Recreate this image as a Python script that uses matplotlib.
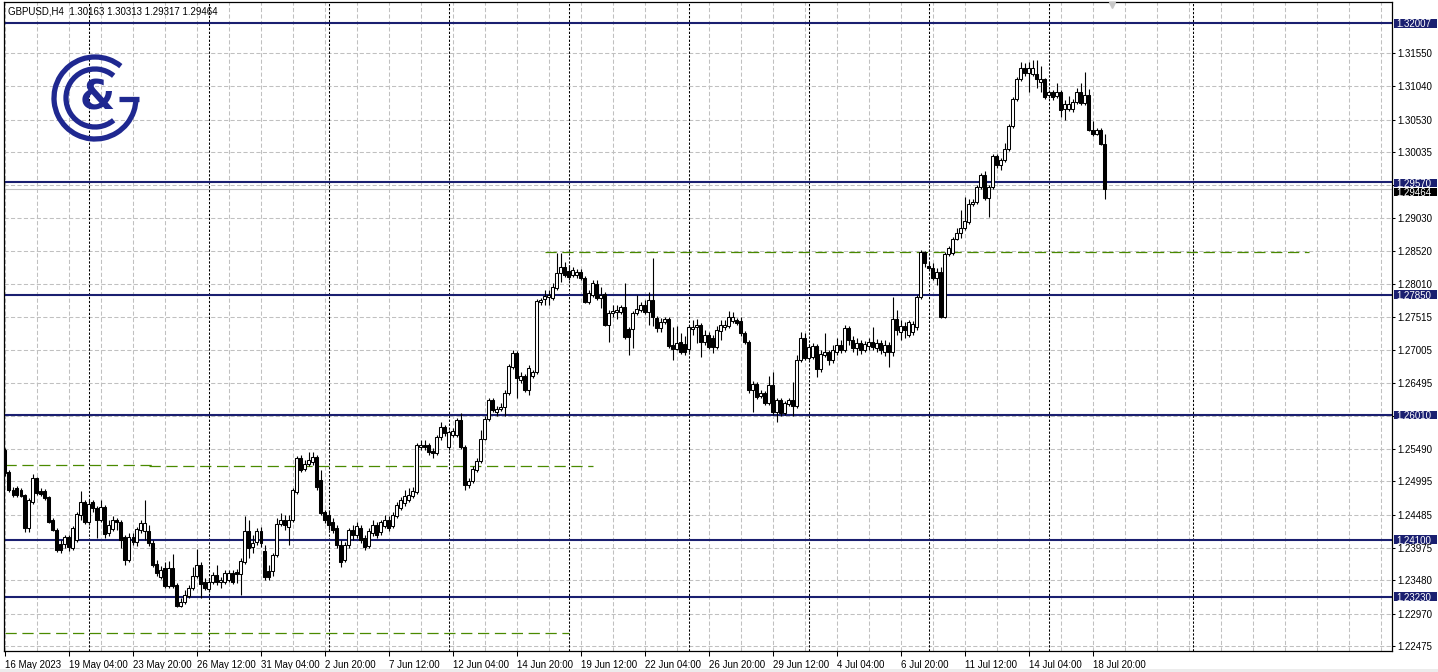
import numpy as np
import matplotlib
matplotlib.use("Agg")
import matplotlib.pyplot as plt
from matplotlib.patches import Arc, Rectangle

plt.rcParams["font.family"] = ["Liberation Sans", "DejaVu Sans"]

# GBPUSD H4 bars, 16 May 2023 12:00 -> 19 Jul 2023 08:00
opens = [
    1.2547, 1.2514, 1.2486, 1.2489, 1.2486, 1.2479, 1.2428, 1.2468, 1.2505, 1.2485,
    1.2485, 1.2475, 1.2440, 1.2425, 1.2404, 1.2404, 1.2414, 1.2397, 1.2410, 1.2448,
    1.2468, 1.2437, 1.2468, 1.2459, 1.2440, 1.2460, 1.2420, 1.2427, 1.2440, 1.2437,
    1.2414, 1.2379, 1.2414, 1.2407, 1.2425, 1.2423, 1.2423, 1.2405, 1.2373, 1.2353,
    1.2367, 1.2339, 1.2367, 1.2341, 1.2309, 1.2315, 1.2324, 1.2336, 1.2355, 1.2371,
    1.2345, 1.2335, 1.2345, 1.2356, 1.2345, 1.2345, 1.2349, 1.2359, 1.2361, 1.2358,
    1.2376, 1.2423, 1.2399, 1.2407, 1.2423, 1.2393, 1.2362, 1.2362, 1.2387, 1.2434,
    1.2440, 1.2430, 1.2440, 1.2483, 1.2535, 1.2518, 1.2526, 1.2529, 1.2537, 1.2502,
    1.2453, 1.2448, 1.2437, 1.2428, 1.2402, 1.2379, 1.2402, 1.2425, 1.2417, 1.2428,
    1.2413, 1.2401, 1.2420, 1.2433, 1.2422, 1.2431, 1.2440, 1.2431, 1.2446, 1.2459,
    1.2467, 1.2471, 1.2477, 1.2483, 1.2552, 1.2555, 1.2555, 1.2546, 1.2543, 1.2567,
    1.2583, 1.2552, 1.2570, 1.2570, 1.2593, 1.2552, 1.2494, 1.2500, 1.2517, 1.2531,
    1.2565, 1.2595, 1.2624, 1.2606, 1.2610, 1.2613, 1.2634, 1.2674, 1.2696, 1.2654,
    1.2661, 1.2639, 1.2661, 1.2667, 1.2774, 1.2778, 1.2781, 1.2780, 1.2795, 1.2818,
    1.2827, 1.2821, 1.2815, 1.2815, 1.2820, 1.2811, 1.2774, 1.2785, 1.2801, 1.2780,
    1.2786, 1.2739, 1.2757, 1.2758, 1.2758, 1.2766, 1.2733, 1.2733, 1.2757, 1.2762,
    1.2769, 1.2759, 1.2777, 1.2749, 1.2734, 1.2743, 1.2748, 1.2708, 1.2702, 1.2713,
    1.2710, 1.2702, 1.2733, 1.2736, 1.2739, 1.2713, 1.2723, 1.2719, 1.2705, 1.2730,
    1.2736, 1.2737, 1.2745, 1.2746, 1.2745, 1.2726, 1.2713, 1.2639, 1.2648, 1.2630,
    1.2634, 1.2619, 1.2647, 1.2606, 1.2624, 1.2604, 1.2618, 1.2624, 1.2615, 1.2685,
    1.2719, 1.2688, 1.2690, 1.2707, 1.2671, 1.2693, 1.2697, 1.2685, 1.2697, 1.2708,
    1.2700, 1.2734, 1.2716, 1.2704, 1.2711, 1.2700, 1.2707, 1.2713, 1.2704, 1.2711,
    1.2697, 1.2708, 1.2697, 1.2748, 1.2728, 1.2737, 1.2723, 1.2728, 1.2736, 1.2781,
    1.2850, 1.2829, 1.2826, 1.2811, 1.2820, 1.2751, 1.2847, 1.2849, 1.2870, 1.2879,
    1.2887, 1.2896, 1.2924, 1.2927, 1.2950, 1.2968, 1.2933, 1.2950, 1.2997, 1.2983,
    1.2991, 1.3008, 1.3043, 1.3084, 1.3115, 1.3132, 1.3124, 1.3123, 1.3123, 1.3110,
    1.3115, 1.3091, 1.3095, 1.3089, 1.3095, 1.3069, 1.3069, 1.3069, 1.3080, 1.3095,
    1.3078, 1.3091, 1.3037, 1.3031, 1.3037, 1.30163,
]
highs = [
    1.2550, 1.2517, 1.2491, 1.2492, 1.2489, 1.2480, 1.2474, 1.2511, 1.2506, 1.2489,
    1.2488, 1.2477, 1.2443, 1.2428, 1.2410, 1.2417, 1.2417, 1.2431, 1.2453, 1.2485,
    1.2471, 1.2471, 1.2471, 1.2462, 1.2471, 1.2463, 1.2440, 1.2446, 1.2443, 1.2440,
    1.2417, 1.2420, 1.2420, 1.2430, 1.2440, 1.2471, 1.2433, 1.2410, 1.2379, 1.2370,
    1.2376, 1.2378, 1.2388, 1.2344, 1.2321, 1.2333, 1.2341, 1.2368, 1.2396, 1.2376,
    1.2352, 1.2352, 1.2361, 1.2371, 1.2353, 1.2364, 1.2364, 1.2364, 1.2365, 1.2382,
    1.2446, 1.2440, 1.2417, 1.2428, 1.2430, 1.2402, 1.2371, 1.2390, 1.2443, 1.2451,
    1.2448, 1.2448, 1.2489, 1.2538, 1.2540, 1.2532, 1.2544, 1.2544, 1.2540, 1.2517,
    1.2456, 1.2456, 1.2443, 1.2433, 1.2410, 1.2407, 1.2428, 1.2433, 1.2437, 1.2433,
    1.2417, 1.2428, 1.2440, 1.2437, 1.2440, 1.2448, 1.2446, 1.2453, 1.2468, 1.2476,
    1.2486, 1.2489, 1.2491, 1.2558, 1.2563, 1.2563, 1.2558, 1.2550, 1.2570, 1.2590,
    1.2586, 1.2578, 1.2581, 1.2596, 1.2604, 1.2555, 1.2505, 1.2523, 1.2535, 1.2578,
    1.2599, 1.2627, 1.2627, 1.2615, 1.2619, 1.2639, 1.2679, 1.2700, 1.2699, 1.2667,
    1.2664, 1.2677, 1.2670, 1.2778, 1.2780, 1.2792, 1.2792, 1.2803, 1.2849, 1.2849,
    1.2835, 1.2830, 1.2827, 1.2824, 1.2824, 1.2814, 1.2792, 1.2808, 1.2808, 1.2797,
    1.2789, 1.2762, 1.2769, 1.2769, 1.2769, 1.2803, 1.2736, 1.2760, 1.2785, 1.2774,
    1.2777, 1.2789, 1.2841, 1.2752, 1.2749, 1.2751, 1.2751, 1.2736, 1.2737, 1.2726,
    1.2722, 1.2739, 1.2746, 1.2748, 1.2742, 1.2731, 1.2728, 1.2723, 1.2737, 1.2746,
    1.2746, 1.2760, 1.2759, 1.2749, 1.2751, 1.2729, 1.2716, 1.2653, 1.2651, 1.2639,
    1.2638, 1.2661, 1.2667, 1.2627, 1.2627, 1.2622, 1.2627, 1.2651, 1.2693, 1.2728,
    1.2726, 1.2710, 1.2711, 1.2710, 1.2700, 1.2726, 1.2700, 1.2708, 1.2719, 1.2716,
    1.2739, 1.2737, 1.2722, 1.2719, 1.2716, 1.2714, 1.2719, 1.2736, 1.2717, 1.2716,
    1.2716, 1.2713, 1.2782, 1.2762, 1.2746, 1.2743, 1.2746, 1.2745, 1.2785, 1.2853,
    1.2852, 1.2835, 1.2834, 1.2826, 1.2827, 1.2850, 1.2860, 1.2873, 1.2887, 1.2915,
    1.2934, 1.2931, 1.2931, 1.2953, 1.2971, 1.2974, 1.2953, 1.3000, 1.3000, 1.2994,
    1.3017, 1.3046, 1.3088, 1.3118, 1.3141, 1.3140, 1.3141, 1.3144, 1.3144, 1.3135,
    1.3117, 1.3098, 1.3098, 1.3109, 1.3098, 1.3083, 1.3089, 1.3084, 1.3101, 1.3109,
    1.3126, 1.3100, 1.3051, 1.3040, 1.3040, 1.30313,
]
lows = [
    1.2508, 1.2483, 1.2475, 1.2475, 1.2475, 1.2422, 1.2422, 1.2465, 1.2479, 1.2477,
    1.2471, 1.2436, 1.2423, 1.2391, 1.2390, 1.2397, 1.2393, 1.2394, 1.2407, 1.2440,
    1.2434, 1.2433, 1.2453, 1.2413, 1.2437, 1.2413, 1.2416, 1.2423, 1.2425, 1.2397,
    1.2371, 1.2376, 1.2402, 1.2401, 1.2420, 1.2410, 1.2401, 1.2368, 1.2355, 1.2350,
    1.2336, 1.2336, 1.2336, 1.2307, 1.2307, 1.2312, 1.2321, 1.2333, 1.2352, 1.2321,
    1.2333, 1.2330, 1.2342, 1.2341, 1.2336, 1.2342, 1.2345, 1.2342, 1.2344, 1.2326,
    1.2373, 1.2382, 1.2390, 1.2402, 1.2399, 1.2349, 1.2349, 1.2355, 1.2384, 1.2431,
    1.2425, 1.2402, 1.2437, 1.2480, 1.2514, 1.2515, 1.2523, 1.2525, 1.2486, 1.2448,
    1.2436, 1.2425, 1.2420, 1.2397, 1.2368, 1.2376, 1.2397, 1.2410, 1.2413, 1.2405,
    1.2394, 1.2397, 1.2416, 1.2413, 1.2417, 1.2428, 1.2423, 1.2428, 1.2443, 1.2456,
    1.2462, 1.2468, 1.2474, 1.2480, 1.2547, 1.2547, 1.2540, 1.2535, 1.2540, 1.2563,
    1.2569, 1.2547, 1.2567, 1.2567, 1.2549, 1.2486, 1.2489, 1.2497, 1.2514, 1.2528,
    1.2563, 1.2592, 1.2606, 1.2599, 1.2607, 1.2599, 1.2632, 1.2671, 1.2627, 1.2650,
    1.2636, 1.2632, 1.2658, 1.2664, 1.2769, 1.2769, 1.2769, 1.2777, 1.2792, 1.2804,
    1.2812, 1.2808, 1.2812, 1.2811, 1.2808, 1.2772, 1.2771, 1.2781, 1.2777, 1.2765,
    1.2737, 1.2713, 1.2751, 1.2748, 1.2756, 1.2718, 1.2693, 1.2704, 1.2754, 1.2759,
    1.2756, 1.2739, 1.2737, 1.2728, 1.2728, 1.2740, 1.2704, 1.2685, 1.2700, 1.2695,
    1.2693, 1.2697, 1.2723, 1.2711, 1.2690, 1.2708, 1.2702, 1.2696, 1.2702, 1.2716,
    1.2731, 1.2734, 1.2742, 1.2739, 1.2722, 1.2710, 1.2635, 1.2606, 1.2626, 1.2627,
    1.2616, 1.2616, 1.2601, 1.2590, 1.2599, 1.2601, 1.2615, 1.2599, 1.2612, 1.2682,
    1.2685, 1.2685, 1.2687, 1.2659, 1.2667, 1.2690, 1.2677, 1.2680, 1.2693, 1.2696,
    1.2697, 1.2708, 1.2697, 1.2693, 1.2694, 1.2697, 1.2700, 1.2700, 1.2697, 1.2694,
    1.2691, 1.2674, 1.2691, 1.2723, 1.2716, 1.2719, 1.2720, 1.2723, 1.2731, 1.2778,
    1.2827, 1.2823, 1.2808, 1.2800, 1.2749, 1.2749, 1.2844, 1.2846, 1.2869, 1.2872,
    1.2884, 1.2893, 1.2921, 1.2924, 1.2947, 1.2930, 1.2904, 1.2947, 1.2979, 1.2976,
    1.2988, 1.3005, 1.3040, 1.3081, 1.3112, 1.3120, 1.3095, 1.3120, 1.3101, 1.3095,
    1.3084, 1.3086, 1.3083, 1.3086, 1.3057, 1.3052, 1.3066, 1.3065, 1.3077, 1.3075,
    1.3075, 1.3035, 1.3028, 1.3029, 1.3014, 1.29317,
]
closes = [
    1.2512, 1.2486, 1.2479, 1.2479, 1.2477, 1.2428, 1.2471, 1.2505, 1.2482, 1.2480,
    1.2474, 1.2437, 1.2425, 1.2394, 1.2394, 1.2414, 1.2399, 1.2428, 1.2449, 1.2468,
    1.2437, 1.2465, 1.2459, 1.2440, 1.2460, 1.2419, 1.2433, 1.2440, 1.2437, 1.2410,
    1.2379, 1.2414, 1.2407, 1.2427, 1.2436, 1.2436, 1.2405, 1.2371, 1.2359, 1.2364,
    1.2339, 1.2367, 1.2339, 1.2309, 1.2315, 1.2326, 1.2336, 1.2355, 1.2371, 1.2342,
    1.2336, 1.2345, 1.2356, 1.2345, 1.2349, 1.2359, 1.2359, 1.2345, 1.2358, 1.2378,
    1.2423, 1.2397, 1.2405, 1.2423, 1.2405, 1.2353, 1.2353, 1.2387, 1.2434, 1.2440,
    1.2433, 1.2440, 1.2486, 1.2535, 1.2517, 1.2526, 1.2532, 1.2537, 1.2491, 1.2451,
    1.2440, 1.2433, 1.2425, 1.2402, 1.2376, 1.2402, 1.2425, 1.2417, 1.2431, 1.2410,
    1.2399, 1.2423, 1.2433, 1.2417, 1.2437, 1.2440, 1.2428, 1.2448, 1.2463, 1.2471,
    1.2477, 1.2479, 1.2485, 1.2555, 1.2555, 1.2552, 1.2544, 1.2543, 1.2567, 1.2583,
    1.2573, 1.2575, 1.2576, 1.2593, 1.2552, 1.2494, 1.2500, 1.2518, 1.2531, 1.2565,
    1.2595, 1.2624, 1.2609, 1.2610, 1.2613, 1.2634, 1.2676, 1.2696, 1.2658, 1.2661,
    1.2639, 1.2673, 1.2667, 1.2775, 1.2777, 1.2783, 1.2785, 1.2797, 1.2818, 1.2827,
    1.2815, 1.2812, 1.2823, 1.2820, 1.2811, 1.2774, 1.2788, 1.2803, 1.2780, 1.2785,
    1.2739, 1.2757, 1.2760, 1.2762, 1.2766, 1.2720, 1.2720, 1.2757, 1.2763, 1.2769,
    1.2759, 1.2777, 1.2751, 1.2734, 1.2743, 1.2748, 1.2707, 1.2702, 1.2711, 1.2697,
    1.2697, 1.2736, 1.2736, 1.2739, 1.2713, 1.2723, 1.2705, 1.2705, 1.2731, 1.2739,
    1.2739, 1.2751, 1.2751, 1.2742, 1.2726, 1.2713, 1.2639, 1.2648, 1.2629, 1.2634,
    1.2619, 1.2647, 1.2606, 1.2624, 1.2604, 1.2619, 1.2624, 1.2615, 1.2685, 1.2719,
    1.2688, 1.2705, 1.2707, 1.2671, 1.2694, 1.2697, 1.2685, 1.2700, 1.2708, 1.2700,
    1.2734, 1.2716, 1.2704, 1.2711, 1.2700, 1.2710, 1.2713, 1.2705, 1.2711, 1.2700,
    1.2708, 1.2697, 1.2748, 1.2731, 1.2737, 1.2731, 1.2743, 1.2740, 1.2781, 1.2850,
    1.2834, 1.2826, 1.2811, 1.2820, 1.2751, 1.2847, 1.2856, 1.2870, 1.2879, 1.2887,
    1.2898, 1.2924, 1.2927, 1.2950, 1.2968, 1.2933, 1.2950, 1.2997, 1.2983, 1.2991,
    1.3008, 1.3043, 1.3084, 1.3115, 1.3132, 1.3124, 1.3132, 1.3132, 1.3115, 1.3115,
    1.3088, 1.3095, 1.3088, 1.3095, 1.3068, 1.3077, 1.3077, 1.3080, 1.3095, 1.3078,
    1.3091, 1.3037, 1.3031, 1.3037, 1.3016, 1.29464,
]

# price scale grid (labels as the terminal prints them, '' = hidden under a level box)
grid_prices = [1.31550, 1.31040, 1.30530, 1.30035, 1.29530, 1.29030, 1.28520, 1.28010,
               1.27515, 1.27005, 1.26495, 1.26000, 1.25490, 1.24995, 1.24485, 1.23975,
               1.23480, 1.22970, 1.22475]
grid_labels = ["1.31550", "1.31040", "1.30530", "1.30035", "", "1.29030", "1.28520", "1.28010",
               "1.27515", "1.27005", "1.26495", "", "1.25490", "1.24995", "1.24485", "1.23975",
               "1.23480", "1.22970", "1.22475"]

# time axis labels every 16 bars
time_labels = ["16 May 2023", "19 May 04:00", "23 May 20:00", "26 May 12:00", "31 May 04:00",
               "2 Jun 20:00", "7 Jun 12:00", "12 Jun 04:00", "14 Jun 20:00", "19 Jun 12:00",
               "22 Jun 04:00", "26 Jun 20:00", "29 Jun 12:00", "4 Jul 04:00", "6 Jul 20:00",
               "11 Jul 12:00", "14 Jul 04:00", "18 Jul 20:00"]
week_starts = [21, 51, 81, 111, 141, 171, 201, 231, 261, 297]

# horizontal levels
levels = [1.32007, 1.29570, 1.27850, 1.26010, 1.24100, 1.23230]
level_labels = ["1.32007", "1.29570", "1.27850", "1.26010", "1.24100", "1.23230"]
last_price = 1.29464

# green dashed ranges: (price, first bar, last bar)
green_lines = [(1.28503, 135, 326), (1.25245, 0, 37), (1.25225, 36, 147), (1.22670, 0, 141)]

navy = "#1a1f70"
logo_col = "#1f2890"
W, H = 1438, 672
px_left, px_right, px_top, px_bottom = 4, 1392, 2, 650.5

fig = plt.figure(figsize=(W / 100, H / 100), dpi=100)
fig.patch.set_facecolor("white")
ax = fig.add_axes([px_left / W, 1 - px_bottom / H, (px_right - px_left) / W, (px_bottom - px_top) / H])
ax.set_facecolor("white")

x0 = -0.15
ax.set_xlim(x0, x0 + (px_right - px_left) / 4)
ax.set_ylim(1.22406, 1.32331)
ppx = (1.32331 - 1.22406) / (px_bottom - px_top)  # price per pixel

# grid
for p in grid_prices:
    ax.axhline(p, color="#c0c0c0", lw=0.75, ls=(0, (4, 2.2)), zorder=0)
for i in range(0, 347, 8):
    ax.axvline(i + 0.2, color="#c0c0c0", lw=0.75, ls=(0, (4, 2.2)), zorder=0)
for i in week_starts:
    ax.axvline(i, color="black", lw=0.75, ls=(0, (2.2, 1.6)), zorder=1)

# levels
for p in levels:
    ax.axhline(p, color=navy, lw=1.5, zorder=2)
ax.axhline(last_price, color="#c0c0c0", lw=0.8, zorder=2)
for p, a, b in green_lines:
    ax.hlines(p, a, b, color="#4a8a00", lw=0.9, linestyles=(0, (9, 4.5)), zorder=2)

# candles
o = np.array(opens)
h = np.array(highs)
l = np.array(lows)
c = np.array(closes)
xs = np.arange(len(c))
up = c >= o
ax.vlines(xs, l, h, color="black", lw=0.8, zorder=3)
bot = np.minimum(o, c)
hgt = np.abs(c - o)
ax.bar(xs[up], hgt[up], bottom=bot[up], width=0.55, facecolor="white",
       edgecolor="black", linewidth=0.75, zorder=4)
ax.bar(xs[~up], hgt[~up], bottom=bot[~up], width=0.55, facecolor="black",
       edgecolor="black", linewidth=0.75, zorder=4)

# axes
for s in ax.spines.values():
    s.set_color("black")
    s.set_linewidth(0.9)
ax.yaxis.tick_right()
ax.set_yticks(grid_prices)
ax.set_yticklabels(grid_labels)
ax.tick_params(axis="y", length=2.5, width=0.75, pad=1.5, labelsize=7, direction="out")
ax.set_xticks(np.arange(len(time_labels)) * 16)
ax.set_xticklabels(time_labels, ha="left")
ax.tick_params(axis="x", length=3.5, width=0.75, pad=3, labelsize=7, direction="out")

# price boxes at the right edge
ytrans = ax.get_yaxis_transform()
box_x = 1 + 1.5 / (px_right - px_left)
box_w = 43 / (px_right - px_left)
box_half = 4.4 * ppx


def price_box(p, text, fc, z, dy=0.0):
    yc = p - dy * ppx
    ax.add_patch(Rectangle((box_x, yc - box_half), box_w, 2 * box_half, transform=ytrans,
                           facecolor=fc, edgecolor="none", clip_on=False, zorder=z))
    ax.text(box_x + 2.5 / (px_right - px_left), yc, text, transform=ytrans, ha="left",
            va="center_baseline", fontsize=7, color="white", clip_on=False, zorder=z + 0.5)


# the last-price box sits just under the 1.29570 box, as in the terminal
price_box(last_price, "1.29464", "black", 5, dy=2.6)
for p, t in zip(levels, level_labels):
    price_box(p, t, navy, 6, dy=0.6 if t == "1.29570" else 0.0)

# chart shift marker
ax.plot([276.85], [1.32285], marker="v", color="#c8c8c8", ms=5, clip_on=False, zorder=5)

# header
fig.text(8 / W, 1 - 12 / H, "GBPUSD,H4  1.30163 1.30313 1.29317 1.29464", fontsize=7, va="center")

# bottom status strip
fig.patches.append(plt.Rectangle((0, 0), 1, 3.5 / H, transform=fig.transFigure,
                                 facecolor="#ececec", edgecolor="none"))

# logo
lax = fig.add_axes([45 / W, 1 - 150 / H, 105 / W, 100 / H])
lax.set_xlim(45, 150)
lax.set_ylim(H - 150, H - 50)
lax.axis("off")
cx, cy = 95, H - 98
lax.add_patch(Arc((cx, cy), 82, 82, theta1=51, theta2=360, lw=3.8, color=logo_col))
lax.plot([119, 138.5], [cy - 1, cy - 1], color=logo_col, lw=3.8, solid_capstyle="butt")
lax.add_patch(Arc((cx, cy), 58, 58, theta1=50, theta2=310, lw=3.8, color=logo_col))
lax.text(cx + 2, cy - 1, "&", fontsize=29, color=logo_col, ha="center", va="center",
         family="DejaVu Sans", fontweight="semibold")

fig.savefig("out.png", dpi=100)
